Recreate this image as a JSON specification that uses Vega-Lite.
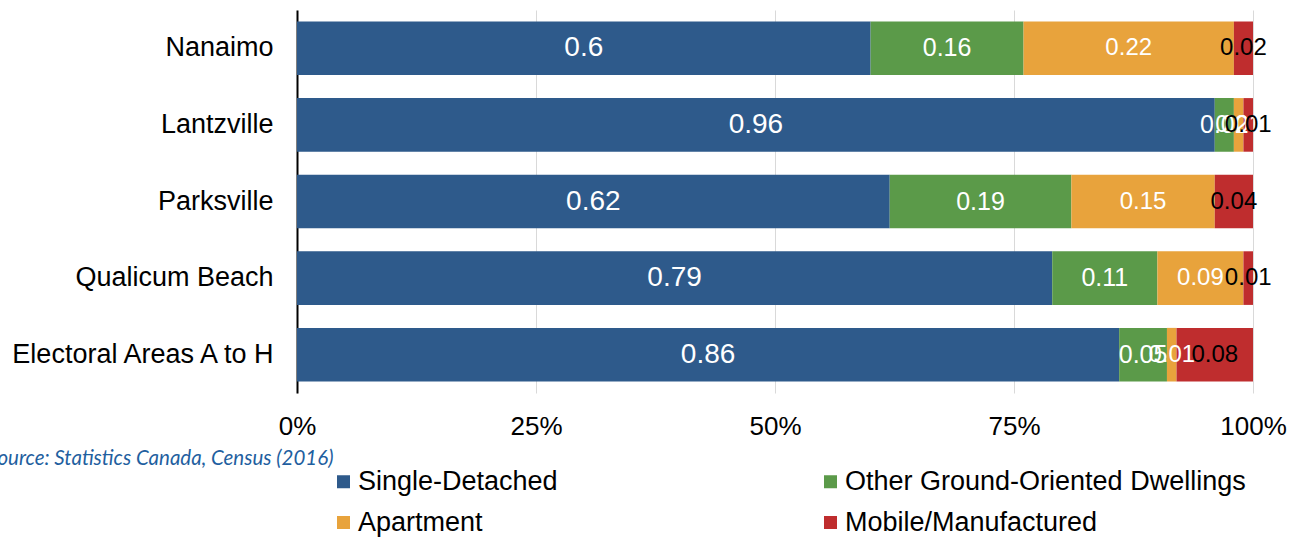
{
  "$schema": "https://vega.github.io/schema/vega-lite/v6.json",
  "autosize": "none",
  "width": 956,
  "height": 383,
  "padding": {"left": 297, "top": 10, "right": 48, "bottom": 144},
  "background": "white",
  "config": {
    "view": {"stroke": null},
    "font": "Liberation Sans"
  },
  "data": {
    "values": [
      {"area": "Nanaimo", "type": "Single-Detached", "k": 1, "value": 0.6},
      {"area": "Nanaimo", "type": "Other Ground-Oriented Dwellings", "k": 2, "value": 0.16},
      {"area": "Nanaimo", "type": "Apartment", "k": 3, "value": 0.22},
      {"area": "Nanaimo", "type": "Mobile/Manufactured", "k": 4, "value": 0.02},
      {"area": "Lantzville", "type": "Single-Detached", "k": 1, "value": 0.96},
      {"area": "Lantzville", "type": "Other Ground-Oriented Dwellings", "k": 2, "value": 0.02},
      {"area": "Lantzville", "type": "Apartment", "k": 3, "value": 0.01},
      {"area": "Lantzville", "type": "Mobile/Manufactured", "k": 4, "value": 0.01},
      {"area": "Parksville", "type": "Single-Detached", "k": 1, "value": 0.62},
      {"area": "Parksville", "type": "Other Ground-Oriented Dwellings", "k": 2, "value": 0.19},
      {"area": "Parksville", "type": "Apartment", "k": 3, "value": 0.15},
      {"area": "Parksville", "type": "Mobile/Manufactured", "k": 4, "value": 0.04},
      {"area": "Qualicum Beach", "type": "Single-Detached", "k": 1, "value": 0.79},
      {"area": "Qualicum Beach", "type": "Other Ground-Oriented Dwellings", "k": 2, "value": 0.11},
      {"area": "Qualicum Beach", "type": "Apartment", "k": 3, "value": 0.09},
      {"area": "Qualicum Beach", "type": "Mobile/Manufactured", "k": 4, "value": 0.01},
      {"area": "Electoral Areas A to H", "type": "Single-Detached", "k": 1, "value": 0.86},
      {"area": "Electoral Areas A to H", "type": "Other Ground-Oriented Dwellings", "k": 2, "value": 0.05},
      {"area": "Electoral Areas A to H", "type": "Apartment", "k": 3, "value": 0.01},
      {"area": "Electoral Areas A to H", "type": "Mobile/Manufactured", "k": 4, "value": 0.08}
    ]
  },
  "encoding": {
    "y": {
      "field": "area",
      "type": "nominal",
      "sort": null,
      "scale": {"paddingInner": 0.3, "paddingOuter": 0.15},
      "axis": {
        "title": null,
        "ticks": false,
        "domainColor": "black",
        "domainWidth": 2,
        "labelFontSize": 27,
        "labelColor": "black",
        "labelPadding": 24,
        "labelLimit": 400
      }
    },
    "x": {
      "field": "value",
      "type": "quantitative",
      "stack": "normalize",
      "scale": {"domain": [0, 1]},
      "axis": {
        "values": [0, 0.25, 0.5, 0.75, 1],
        "format": ".0%",
        "domain": false,
        "ticks": false,
        "grid": true,
        "gridColor": "#D9D9D9",
        "gridWidth": 1,
        "labelFontSize": 26,
        "labelColor": "black",
        "labelPadding": 20,
        "labelFlush": false,
        "labelOverlap": false,
        "title": "Source: Statistics Canada, Census (2016)",
        "titleFont": "Lato",
        "titleFontStyle": "italic",
        "titleFontWeight": "normal",
        "titleFontSize": 20.5,
        "titleColor": "#1F5FA0",
        "titleAlign": "right",
        "titleAnchor": "start",
        "titleBaseline": "middle",
        "titleX": 36,
        "titleY": 65
      }
    },
    "order": {"field": "k", "type": "quantitative"}
  },
  "layer": [
    {
      "mark": {"type": "bar"},
      "encoding": {
        "color": {
          "field": "type",
          "type": "nominal",
          "scale": {
            "domain": ["Single-Detached", "Other Ground-Oriented Dwellings", "Apartment", "Mobile/Manufactured"],
            "range": ["#2E5A8B", "#5B9A49", "#E8A33C", "#BF2D2E"]
          },
          "legend": {
            "title": null,
            "orient": "none",
            "legendX": 33,
            "legendY": 458,
            "direction": "horizontal",
            "columns": 2,
            "columnPadding": 259,
            "rowPadding": 13,
            "padding": 0,
            "symbolType": "square",
            "symbolSize": 169,
            "symbolStrokeWidth": 0,
            "symbolOpacity": 1,
            "labelFontSize": 27,
            "labelColor": "black",
            "labelOffset": 1,
            "labelLimit": 500
          }
        }
      }
    },
    {
      "mark": {"type": "text", "baseline": "middle", "align": "center"},
      "encoding": {
        "x": {"field": "value", "type": "quantitative", "stack": "normalize", "bandPosition": 0.5},
        "text": {"field": "value", "type": "quantitative"},
        "color": {
          "condition": {"test": "datum.type === 'Mobile/Manufactured'", "value": "black"},
          "value": "white"
        },
        "size": {
          "condition": [
            {"test": "datum.type === 'Single-Detached'", "value": 28},
            {"test": "datum.type === 'Other Ground-Oriented Dwellings'", "value": 25}
          ],
          "value": 24
        }
      }
    }
  ]
}
